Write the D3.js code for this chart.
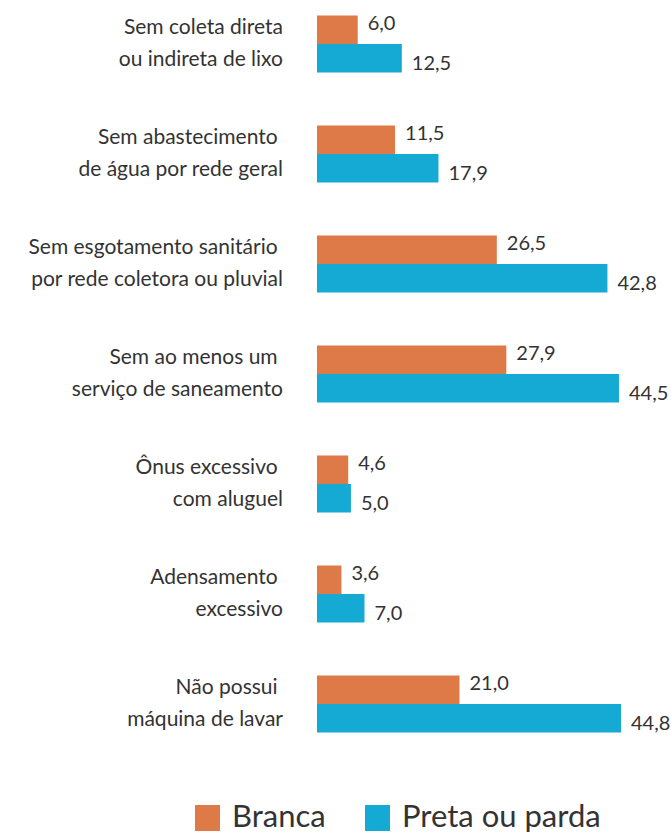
<!DOCTYPE html>
<html>
<head>
<meta charset="utf-8">
<title>Saneamento</title>
<script src="https://d3js.org/d3.v7.min.js"></script>
<style type="text/css">
	body{ margin:0; background:white; }
	text{ font-family: Lato, "Noto Sans", sans-serif; fill:#333; }
	.cat{ font-size:21px; white-space:pre; }
	.val{ font-size:20px; }
	.leg{ font-size:31px; }
</style>
</head>
<body>
<svg id="chart" width="671" height="834"></svg>
<script>
	// categories, two lines each
	var categories = [
		["Sem coleta direta", "ou indireta de lixo"],
		["Sem abastecimento ", "de água por rede geral"],
		["Sem esgotamento sanitário ", "por rede coletora ou pluvial"],
		["Sem ao menos um ", "serviço de saneamento"],
		["Ônus excessivo ", "com aluguel"],
		["Adensamento ", "excessivo"],
		["Não possui ", "máquina de lavar"]
	];
	var branca = [6.0, 11.5, 26.5, 27.9, 4.6, 3.6, 21.0];
	var pretaParda = [12.5, 17.9, 42.8, 44.5, 5.0, 7.0, 44.8];
	var seriesNames = ["Branca", "Preta ou parda"];
	var colors = ["#dd7a48", "#14aad4"];

	var svg = d3.select("#chart");
	var barH = 28.5;
	var x0 = 317;

	var x = d3.scaleLinear().domain([0, 44.8]).range([0, 304]);
	var y = d3.scalePoint()
		.domain(d3.range(categories.length))
		.range([44, 704]);

	var fmt = function(v){ return d3.format(".1f")(v).replace(".", ","); };

	var groups = svg.selectAll(".group")
		.data(categories.map(function(c, i){
			return {label: c, vals: [branca[i], pretaParda[i]], i: i};
		}))
		.enter()
		.append("g")
		.attr("class", "group")
		.attr("transform", function(d){ return "translate(0," + y(d.i) + ")"; });

	groups.selectAll("rect")
		.data(function(d){ return d.vals; })
		.enter()
		.append("rect")
		.attr("x", x0)
		.attr("y", function(d, j){ return j == 0 ? -barH : 0; })
		.attr("width", function(d){ return x(d); })
		.attr("height", barH)
		.attr("fill", function(d, j){ return colors[j]; });

	groups.selectAll(".val")
		.data(function(d){ return d.vals; })
		.enter()
		.append("text")
		.attr("class", "val")
		.attr("x", function(d){ return x0 + x(d) + 10; })
		.attr("y", function(d, j){ return j == 0 ? -14 : 26; })
		.text(fmt);

	groups.selectAll(".cat")
		.data(function(d){ return d.label; })
		.enter()
		.append("text")
		.attr("class", "cat")
		.attr("x", 283)
		.attr("y", function(d, j){ return j == 0 ? -10 : 22; })
		.attr("text-anchor", "end")
		.text(function(d){ return d; });

	// legend
	var legX = [195, 365];
	var legend = svg.selectAll(".legend")
		.data(seriesNames)
		.enter()
		.append("g")
		.attr("class", "legend")
		.attr("transform", function(d, i){ return "translate(" + legX[i] + ",805)"; });

	legend.append("rect")
		.attr("width", 25)
		.attr("height", 26)
		.attr("fill", function(d, i){ return colors[i]; });

	legend.append("text")
		.attr("class", "leg")
		.attr("x", 37)
		.attr("y", 22)
		.text(function(d){ return d; });
</script>
</body>
</html>
